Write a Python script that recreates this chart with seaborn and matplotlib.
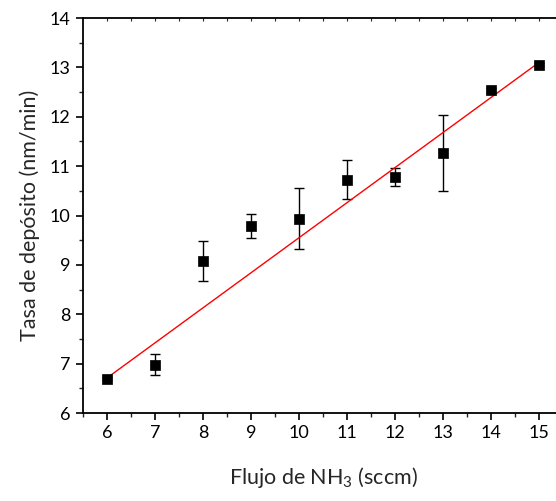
import numpy as np
import pandas as pd
import matplotlib
matplotlib.use("Agg")
import matplotlib.pyplot as plt
from matplotlib.ticker import MultipleLocator
import seaborn as sns

# Data
flujo = [6, 7, 8, 9, 10, 11, 12, 13, 14, 15]
tasa = [6.69, 6.98, 9.08, 9.79, 9.935, 10.725, 10.78, 11.265, 12.55, 13.05]
error = [0.03, 0.21, 0.41, 0.24, 0.62, 0.39, 0.18, 0.77, 0.04, 0.03]
fit_x = [6, 15]
fit_y = [6.71, 13.10]
xticks = [6, 7, 8, 9, 10, 11, 12, 13, 14, 15]
yticks = [6, 7, 8, 9, 10, 11, 12, 13, 14]

sns.set_style("ticks")
plt.rcParams['font.family'] = ['Lato', 'DejaVu Sans']
plt.rcParams['mathtext.default'] = 'regular'

df = pd.DataFrame({"flujo": flujo, "tasa": tasa, "error": error})
fit_df = pd.DataFrame({"x": fit_x, "y": fit_y})

fig = plt.figure(figsize=(5.56, 5.01), dpi=100)
ax = fig.add_axes([83/556, 1 - 413/501, (563 - 83)/556, (413 - 18)/501])

ax.errorbar(df["flujo"], df["tasa"], yerr=df["error"], fmt="none",
            ecolor="black", elinewidth=1.0, capsize=3.5, capthick=1.0, zorder=2)
sns.lineplot(data=fit_df, x="x", y="y", ax=ax, color="red", linewidth=1.0, zorder=3)
sns.scatterplot(data=df, x="flujo", y="tasa", ax=ax, marker="s", s=55,
                color="black", edgecolor="black", linewidth=0.5, zorder=4)

ax.set_xlim(5.5, 15.5)
ax.set_ylim(6, 14)
ax.set_xticks(xticks)
ax.set_yticks(yticks)
ax.xaxis.set_minor_locator(MultipleLocator(0.5))
ax.yaxis.set_minor_locator(MultipleLocator(0.5))

for s in ["left", "bottom", "top"]:
    ax.spines[s].set_linewidth(1.3)
    ax.spines[s].set_color("black")
ax.spines["right"].set_visible(False)

ax.tick_params(axis="both", which="major", direction="out", length=5, width=1.2,
               labelsize=13, colors="black", pad=4)
ax.tick_params(axis="both", which="minor", direction="out", length=3, width=1.0)
ax.tick_params(axis="x", which="both", top=False)

# Small inward ticks on top spine
sec = ax.secondary_xaxis("top")
sec.set_xticks(np.arange(6, 15.01, 0.5))
sec.tick_params(direction="in", length=2, width=0.8, labeltop=False)
sec.spines["top"].set_visible(False)

ax.set_xlabel("Flujo de NH$_3$ (sccm)", fontsize=15.5, labelpad=17)
ax.set_ylabel("Tasa de depósito (nm/min)", fontsize=15.5, labelpad=7)

fig.savefig("out.png", dpi=100)
